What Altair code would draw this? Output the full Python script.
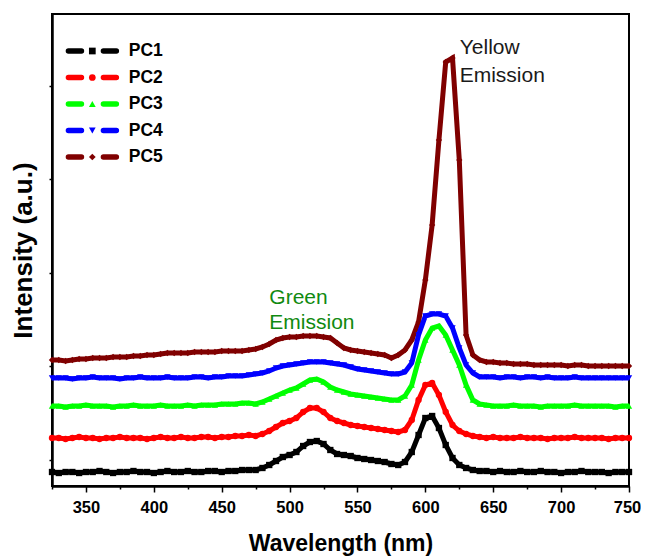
import altair as alt
import pandas as pd

# ---------------- data ----------------
wavelength = list(range(325, 751, 5))
series = ["PC1", "PC2", "PC3", "PC4", "PC5"]
colors = ["#000000", "#ff0000", "#00ff00", "#0000ff", "#800000"]
shapes = ["square", "circle", "triangle-up", "triangle-down", "diamond"]

pc1 = [14, 13, 14, 14, 13, 14, 14, 15, 14, 13, 14, 14, 15, 14, 14, 13, 14, 15, 14, 14, 15, 14, 14, 15, 15, 14, 15, 15, 16, 16,
       16, 18, 21, 25, 29, 31, 34, 40, 44, 45, 42, 36, 32, 31, 30, 28, 27, 26, 25, 24, 22, 21, 24, 34, 51, 68, 70, 58, 41, 28, 21, 18, 16, 15,
       15, 14, 15, 14, 14, 15, 14, 14, 15, 14, 14, 13, 14, 14, 15, 14, 14, 14, 13, 14, 14, 14]
pc2 = [48, 48, 47, 48, 49, 48, 48, 47, 48, 48, 49, 48, 48, 48, 47, 48, 49, 48, 48, 49, 48, 48, 49, 49, 48, 49, 49, 50, 50, 51,
       50, 52, 55, 59, 63, 65, 68, 74, 78, 78, 74, 68, 65, 63, 61, 60, 59, 58, 57, 56, 55, 54, 56, 66, 86, 101, 103, 91, 74, 61, 55, 52, 50, 49,
       48, 49, 48, 48, 48, 49, 48, 48, 48, 47, 48, 48, 48, 49, 48, 48, 48, 48, 47, 48, 48, 48]
pc3 = [80, 80, 79, 80, 80, 81, 80, 80, 80, 79, 80, 80, 81, 80, 80, 80, 81, 80, 80, 80, 81, 80, 81, 81, 81, 82, 82, 82, 83, 83,
       82, 84, 87, 90, 93, 96, 98, 102, 106, 107, 104, 99, 96, 94, 92, 91, 90, 89, 88, 87, 86, 86, 90, 101, 126, 146, 158, 160, 151, 136, 121, 101, 86, 82,
       81, 80, 80, 80, 81, 80, 80, 80, 79, 80, 80, 80, 80, 81, 80, 80, 80, 80, 80, 79, 80, 80]
pc4 = [108, 108, 108, 107, 108, 108, 109, 108, 108, 108, 107, 108, 108, 109, 108, 108, 108, 109, 108, 108, 108, 109, 109, 108, 109, 109, 110, 110, 110, 111,
       112, 113, 115, 118, 120, 121, 122, 123, 124, 124, 124, 123, 122, 121, 119, 117, 116, 115, 114, 113, 112, 112, 114, 123, 151, 170, 172, 172, 170, 158, 138, 121, 113, 109,
       109, 109, 108, 109, 109, 108, 109, 109, 108, 109, 108, 108, 108, 109, 108, 108, 108, 108, 108, 108, 108, 108]
pc5 = [126, 126, 125, 126, 127, 127, 128, 128, 128, 129, 129, 129, 130, 130, 131, 131, 132, 133, 133, 133, 133, 134, 134, 134, 134, 135, 135, 135, 135, 136,
       137, 139, 142, 146, 148, 149, 149, 150, 150, 150, 149, 148, 143, 138, 136, 135, 134, 133, 132, 131, 128, 131, 136, 146, 164, 206, 261, 346, 424, 428, 326, 151, 131, 126,
       124, 124, 123, 123, 122, 122, 122, 121, 121, 121, 121, 121, 120, 121, 121, 120, 120, 120, 120, 120, 120, 120]
values = [pc1, pc2, pc3, pc4, pc5]

x_ticks = list(range(325, 751, 25))
y_ticks = [26, 120, 213, 307, 400]

# legend and annotation placement (in data units)
legend_rows = [435, 408.5, 382, 355.5, 329]
annot_text = ["Yellow", "Emission", "Green", "Emission"]
annot_x = [625.3, 625.3, 485.1, 485.1]
annot_y = [438, 410, 188, 163]
annot_color = ["#1a1a1a", "#1a1a1a", "#108a10", "#108a10"]

# ---------------- build tables ----------------
rows = []
for s, vals in zip(series, values):
    for w, v in zip(wavelength, vals):
        rows.append({"series": s, "wavelength": w, "intensity": v})
df = pd.DataFrame(rows)

leg = pd.DataFrame({
    "series": series,
    "ly": legend_rows,
    "x1": [337.1] * 5,
    "x2": [372.4] * 5,
    "mx": [354.7] * 5,
    "tx": [381.5] * 5,
})
ann = pd.DataFrame({"text": annot_text, "ax": annot_x, "ay": annot_y, "col": annot_color})

xscale = alt.Scale(domain=[325, 750], nice=False, zero=False)
yscale = alt.Scale(domain=[0, 472], nice=False, zero=False)
cscale = alt.Scale(domain=series, range=colors)
sscale = alt.Scale(domain=series, range=shapes)

x_axis = alt.Axis(
    title="Wavelength (nm)", values=x_ticks,
    labelExpr="datum.value % 50 === 0 ? datum.label : ''",
    tickSize={"condition": {"test": "datum.value % 50 === 0", "value": 6}, "value": 3},
    labelOffset={"condition": {"test": "datum.value === 750", "value": -2}, "value": 0},
    tickWidth=1.5, labelFontSize=16.5, labelFontWeight="bold", labelPadding=7,
    titleFontSize=23, titleFontWeight="bold", titlePadding=17, labelFlush=False,
)
y_axis = alt.Axis(
    title="Intensity (a.u.)", values=y_ticks, labels=False, tickSize=3, tickWidth=1.5,
    titleFontSize=26, titleFontWeight="bold", titlePadding=12,
)


def X(field):
    return alt.X(field, scale=xscale, axis=x_axis)


def Y(field):
    return alt.Y(field, scale=yscale, axis=y_axis)


COL = alt.Color("series:N", scale=cscale, legend=None)
SHP = alt.Shape("series:N", scale=sscale, legend=None)

layers = []
for s in reversed(series):
    base = alt.Chart(df[df["series"] == s])
    line = base.mark_line(strokeWidth=5).encode(
        x=X("wavelength:Q"), y=Y("intensity:Q"), color=COL)
    pts = base.mark_point(filled=True, size=40, opacity=1).encode(
        x=X("wavelength:Q"), y=Y("intensity:Q"), color=COL, shape=SHP)
    layers += [line, pts]

lbase = alt.Chart(leg)
leg_rule = lbase.mark_rule(strokeWidth=5.5, strokeCap="round", strokeDash=[13, 22]).encode(
    x=X("x1:Q"), x2="x2:Q", y=Y("ly:Q"), color=COL)
leg_pt = lbase.mark_point(filled=True, size=45, opacity=1).encode(
    x=X("mx:Q"), y=Y("ly:Q"), color=COL, shape=SHP)
leg_txt = lbase.mark_text(align="left", baseline="middle", fontSize=17.5, fontWeight="bold",
                          font="Liberation Sans", color="black").encode(
    x=X("tx:Q"), y=Y("ly:Q"), text="series:N")
ann_txt = alt.Chart(ann).mark_text(align="left", baseline="middle", fontSize=21,
                                   font="Liberation Sans").encode(
    x=X("ax:Q"), y=Y("ay:Q"), text="text:N",
    color=alt.Color("col:N", scale=None))

layers += [leg_rule, leg_pt, leg_txt, ann_txt]

chart = alt.layer(*layers).properties(
    width=577, height=472,
    autosize=alt.AutoSizeParams(type="none"),
    padding={"left": 44, "top": 6, "right": 12, "bottom": 76},
).configure_view(stroke="black", strokeWidth=2).configure_axis(
    domainColor="black", domainWidth=2.5, tickColor="black", grid=False,
    labelFont="Liberation Sans", titleFont="Liberation Sans",
    labelColor="black", titleColor="black",
)

chart.save("out.html", embed_options={"renderer": "svg", "actions": False})
